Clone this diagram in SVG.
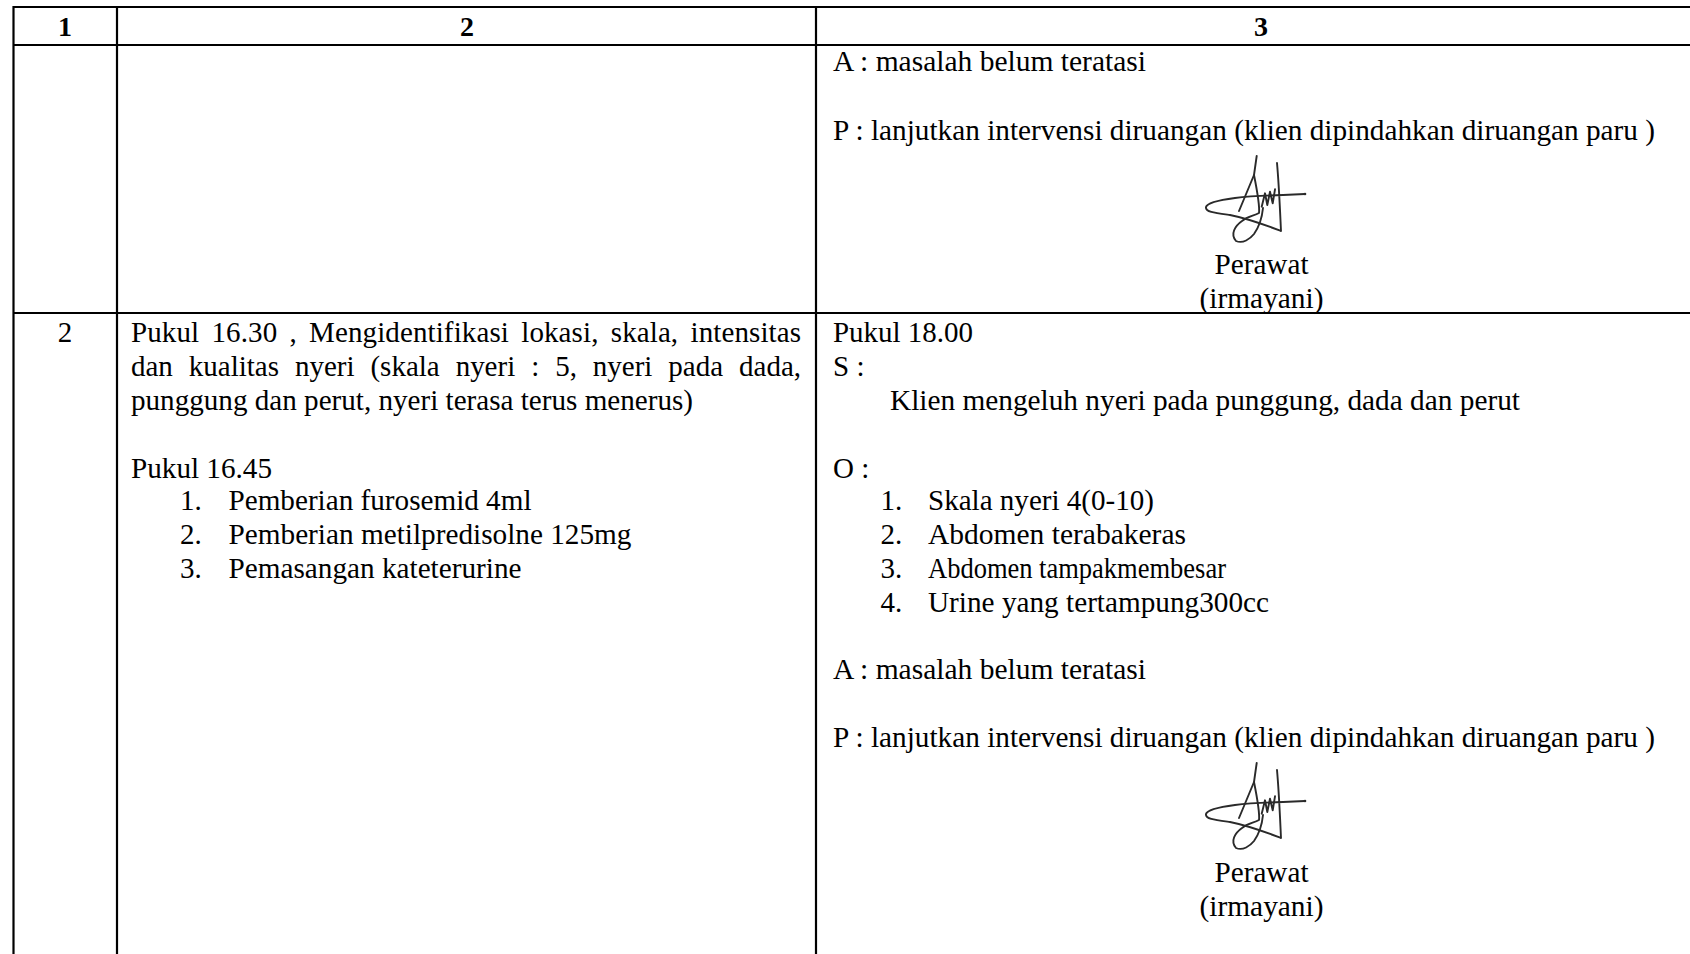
<svg xmlns="http://www.w3.org/2000/svg" width="1690" height="954" viewBox="0 0 1690 954">
<style>
.t{font-family:"Liberation Serif","Times New Roman",serif;font-size:29px;fill:#000}
.h{font-family:"Liberation Serif","Times New Roman",serif;font-size:28px;font-weight:bold;fill:#000}
.c{text-anchor:middle}
.ln{stroke:#000;stroke-width:2.2;fill:none}
.sig{stroke:#2a2a2a;stroke-width:1.9;fill:none;stroke-linecap:round;stroke-linejoin:round}
</style>
<defs>
<g id="signature">
<path class="sig" d="M1305,194 L1283,195 C1265,195.5 1250,196 1235,198 C1220,200 1207,203 1206,207 C1205,212 1215,213 1230,215 C1250,219 1268,226 1281,231 C1280,210 1279,185 1277,163"/>
<path class="sig" d="M1256.7,156 L1254,175 L1239,211"/>
<path class="sig" d="M1254,175 C1257,190 1260,205 1259,213 C1254,216 1248,216 1242,221 C1235,226 1230,234 1236,241 C1243,244 1250,239 1254,234 C1259,227 1262,218 1263,208"/>
<path class="sig" d="M1261.7,206.7 L1265,193.3 L1267.3,205 L1270,191.7 L1272.7,203.3 L1275,189.3"/>
<circle cx="1305" cy="194" r="1.3" fill="#2a2a2a"/>
</g>
</defs>
<g id="grid">
<line class="ln" x1="13" y1="7" x2="1690" y2="7"/>
<line class="ln" x1="13" y1="45" x2="1690" y2="45"/>
<line class="ln" x1="13" y1="313" x2="1690" y2="313"/>
<line class="ln" x1="13.5" y1="6" x2="13.5" y2="954"/>
<line class="ln" x1="117" y1="6" x2="117" y2="954"/>
<line class="ln" x1="816" y1="6" x2="816" y2="954"/>
</g>
<g id="header">
<text class="h c" x="65" y="36">1</text>
<text class="h c" x="467" y="36">2</text>
<text class="h c" x="1261" y="36">3</text>
</g>
<g id="row1">
<text class="t" x="833" y="71" textLength="313" lengthAdjust="spacingAndGlyphs">A : masalah belum teratasi</text>
<text class="t" x="833" y="140" textLength="822" lengthAdjust="spacingAndGlyphs">P : lanjutkan intervensi diruangan (klien dipindahkan diruangan paru )</text>
<use href="#signature"/>
<text class="t c" x="1261.5" y="274" textLength="94" lengthAdjust="spacingAndGlyphs">Perawat</text>
<text class="t c" x="1261.5" y="307.5" textLength="124" lengthAdjust="spacingAndGlyphs">(irmayani)</text>
</g>
<g id="row2-no">
<text class="t c" x="65" y="342">2</text>
</g>
<g id="row2-implementation">
<text class="t" x="131" y="342" word-spacing="4.9" textLength="670" lengthAdjust="spacing">Pukul 16.30 , Mengidentifikasi lokasi, skala, intensitas</text>
<text class="t" x="131" y="375.5" word-spacing="8.7" textLength="670" lengthAdjust="spacing">dan kualitas nyeri (skala nyeri : 5, nyeri pada dada,</text>
<text class="t" x="131" y="409.5" textLength="562" lengthAdjust="spacingAndGlyphs">punggung dan perut, nyeri terasa terus menerus)</text>
<text class="t" x="131" y="478" textLength="141" lengthAdjust="spacingAndGlyphs">Pukul 16.45</text>
<text class="t" x="180" y="510">1.</text>
<text class="t" x="228.5" y="510" textLength="303" lengthAdjust="spacingAndGlyphs">Pemberian furosemid 4ml</text>
<text class="t" x="180" y="544">2.</text>
<text class="t" x="228.5" y="544" textLength="403" lengthAdjust="spacingAndGlyphs">Pemberian metilpredisolne 125mg</text>
<text class="t" x="180" y="578">3.</text>
<text class="t" x="228.5" y="578" textLength="293" lengthAdjust="spacingAndGlyphs">Pemasangan kateterurine</text>
</g>
<g id="row2-evaluation">
<text class="t" x="833" y="342" textLength="140" lengthAdjust="spacingAndGlyphs">Pukul 18.00</text>
<text class="t" x="833" y="375.5">S :</text>
<text class="t" x="890" y="409.5" textLength="630" lengthAdjust="spacingAndGlyphs">Klien mengeluh nyeri pada punggung, dada dan perut</text>
<text class="t" x="833" y="478">O :</text>
<text class="t" x="880.5" y="510">1.</text>
<text class="t" x="928" y="510" textLength="226" lengthAdjust="spacingAndGlyphs">Skala nyeri 4(0-10)</text>
<text class="t" x="880.5" y="544">2.</text>
<text class="t" x="928" y="544" textLength="258" lengthAdjust="spacingAndGlyphs">Abdomen terabakeras</text>
<text class="t" x="880.5" y="578">3.</text>
<text class="t" x="928" y="578" textLength="298" lengthAdjust="spacingAndGlyphs">Abdomen tampakmembesar</text>
<text class="t" x="880.5" y="612">4.</text>
<text class="t" x="928" y="612" textLength="341" lengthAdjust="spacingAndGlyphs">Urine yang tertampung300cc</text>
<text class="t" x="833" y="679" textLength="313" lengthAdjust="spacingAndGlyphs">A : masalah belum teratasi</text>
<text class="t" x="833" y="747" textLength="822" lengthAdjust="spacingAndGlyphs">P : lanjutkan intervensi diruangan (klien dipindahkan diruangan paru )</text>
<use href="#signature" transform="translate(0,607)"/>
<text class="t c" x="1261.5" y="882" textLength="94" lengthAdjust="spacingAndGlyphs">Perawat</text>
<text class="t c" x="1261.5" y="916" textLength="124" lengthAdjust="spacingAndGlyphs">(irmayani)</text>
</g>
</svg>
